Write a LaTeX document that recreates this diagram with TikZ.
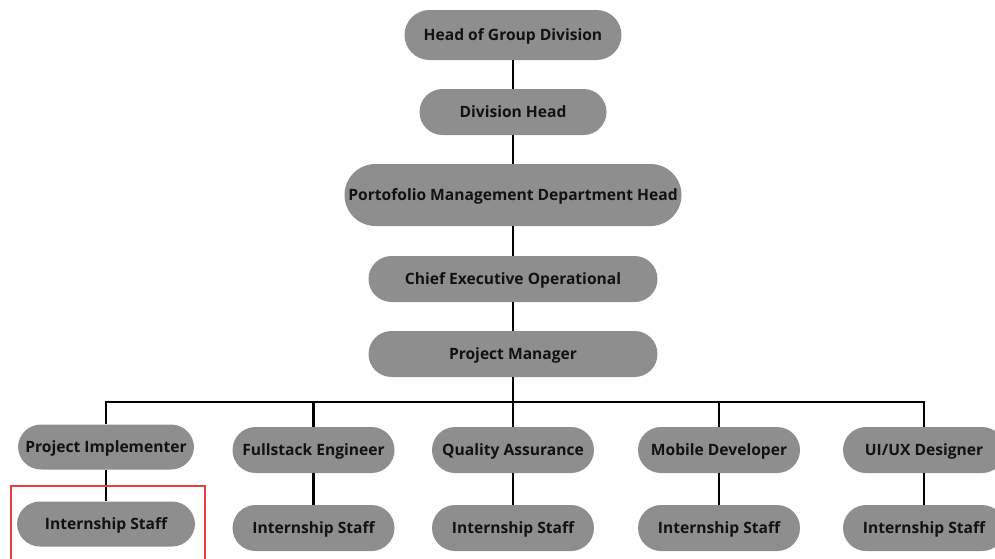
\documentclass[tikz,border=0pt]{standalone}
\usepackage{fontspec}
\setmainfont{Open Sans}
\usepackage{tikz}
\usetikzlibrary{positioning}
\definecolor{boxgray}{RGB}{142,142,142}
\definecolor{txtdark}{RGB}{18,18,18}
\definecolor{markred}{RGB}{230,60,60}
\tikzset{
  orgbox/.style={fill=boxgray, text=txtdark, font=\fontsize{15.6}{18}\selectfont\bfseries,
    minimum height=46pt, rounded corners=23pt, inner xsep=3pt,
    text height=11.5pt, text depth=0.5pt},
  link/.style={line width=2.6pt, black}
}
\begin{document}
\begin{tikzpicture}[x=1pt, y=-1pt]
\useasboundingbox (0, 0) rectangle (995, 558);
\clip (0, 0) rectangle (995, 558);
\node[orgbox, minimum width=217pt, minimum height=50pt, rounded corners=25pt] (hgd) at (513, 35) {Head of Group Division};
\node[orgbox, minimum width=187pt] (dh) at (513, 112) {Division Head};
\node[orgbox, minimum width=337pt, minimum height=62pt, rounded corners=31pt] (pmdh) at (513, 195) {Portofolio Management Department Head};
\node[orgbox, minimum width=289pt] (ceo) at (513, 279) {Chief Executive Operational};
\node[orgbox, minimum width=289pt] (pm) at (513, 354) {Project Manager};
\coordinate (bus) at (513, 402);

\node[orgbox, minimum width=176pt, minimum height=45pt] (impl) at (106, 447) {Project Implementer};
\node[orgbox, minimum width=162pt] (fse) at (313.5, 450) {Fullstack Engineer};
\node[orgbox, minimum width=162pt] (qa) at (513, 450) {Quality Assurance};
\node[orgbox, minimum width=162pt] (mob) at (719, 450) {Mobile Developer};
\node[orgbox, minimum width=162pt] (uiux) at (924, 450) {UI/UX Designer};

\node[orgbox, minimum width=178pt, minimum height=45pt] (in1) at (106, 524) {Internship Staff};
\node[orgbox, minimum width=162pt] (in2) at (313.5, 528) {Internship Staff};
\node[orgbox, minimum width=162pt] (in3) at (513, 528) {Internship Staff};
\node[orgbox, minimum width=162pt] (in4) at (719, 528) {Internship Staff};
\node[orgbox, minimum width=162pt] (in5) at (924, 528) {Internship Staff};

\draw[link] (hgd) -- (dh);
\draw[link] (dh) -- (pmdh);
\draw[link] (pmdh) -- (ceo);
\draw[link] (ceo) -- (pm);
\draw[link] (pm) -- (bus);
\draw[link] (impl.north) |- (bus);
\draw[link] (fse.north) |- (bus);
\draw[link] (qa.north) -- (bus);
\draw[link] (mob.north) |- (bus);
\draw[link] (uiux.north) |- (bus);
\draw[link] (impl) -- (in1);
\draw[link] (fse) -- (in2);
\draw[link] (qa) -- (in3);
\draw[link] (mob) -- (in4);
\draw[link] (uiux) -- (in5);

\draw[markred, line width=1.8pt] (11, 570) -- (11, 486) -- (205, 486) -- (205, 570);
\end{tikzpicture}
\end{document}
